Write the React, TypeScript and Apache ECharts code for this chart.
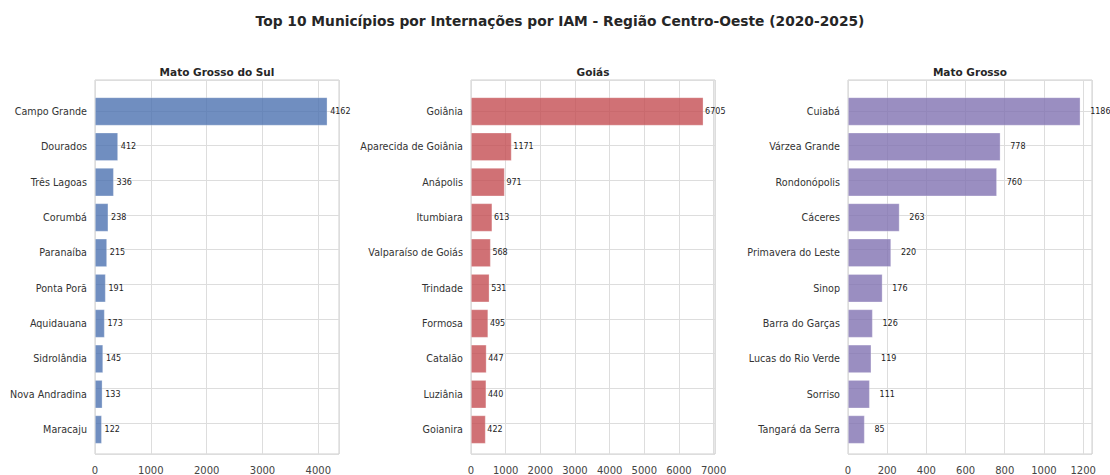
import React, { useEffect, useRef } from 'react';
import * as echarts from 'echarts';

const mainTitle = 'Top 10 Municípios por Internações por IAM - Região Centro-Oeste (2020-2025)';

const panelTitles = ['Mato Grosso do Sul', 'Goiás', 'Mato Grosso'];

const msNames = ['Campo Grande', 'Dourados', 'Três Lagoas', 'Corumbá', 'Paranaíba', 'Ponta Porã', 'Aquidauana', 'Sidrolândia', 'Nova Andradina', 'Maracaju'];
const msValues = [4162, 412, 336, 238, 215, 191, 173, 145, 133, 122];

const goNames = ['Goiânia', 'Aparecida de Goiânia', 'Anápolis', 'Itumbiara', 'Valparaíso de Goiás', 'Trindade', 'Formosa', 'Catalão', 'Luziânia', 'Goianira'];
const goValues = [6705, 1171, 971, 613, 568, 531, 495, 447, 440, 422];

const mtNames = ['Cuiabá', 'Várzea Grande', 'Rondonópolis', 'Cáceres', 'Primavera do Leste', 'Sinop', 'Barra do Garças', 'Lucas do Rio Verde', 'Sorriso', 'Tangará da Serra'];
const mtValues = [1186, 778, 760, 263, 220, 176, 126, 119, 111, 85];

const tickIntervals = [1000, 1000, 200];
const barColors = ['rgba(76,114,176,0.8)', 'rgba(196,78,82,0.8)', 'rgba(129,114,178,0.8)'];

const FONT = 'DejaVu Sans';

export default function App() {
  const ref = useRef<HTMLDivElement>(null);

  useEffect(() => {
    if (!ref.current) return;
    const chart = echarts.init(ref.current, null, { renderer: 'svg' });

    const panels = [
      { names: msNames, values: msValues },
      { names: goNames, values: goValues },
      { names: mtNames, values: mtValues },
    ];
    const lefts = [95, 471, 848];
    const width = 244;
    const frameTop = 80;
    const frameH = 381;
    const yMin = -0.89;
    const yMax = 9.89;
    const unit = frameH / (yMax - yMin);
    const barsTop = frameTop + (-0.5 - yMin) * unit;
    const barsH = 10 * unit;

    const grid: any[] = [];
    const xAxis: any[] = [];
    const yAxis: any[] = [];
    const series: any[] = [];
    const graphic: any[] = [];

    graphic.push({
      type: 'text',
      x: 560,
      y: 21,
      style: {
        text: mainTitle,
        fontFamily: FONT,
        fontSize: 13.8,
        fontWeight: 'bold',
        fill: '#262626',
        align: 'center',
        verticalAlign: 'middle',
      },
    });

    panels.forEach((p, i) => {
      const maxV = Math.max(...p.values) * 1.05;
      grid.push({
        left: lefts[i], top: frameTop, width, height: frameH,
        show: true, borderColor: '#cfcfcf', borderWidth: 1, backgroundColor: 'transparent',
      });
      grid.push({ left: lefts[i], top: barsTop, width, height: barsH });

      xAxis.push({
        gridIndex: 2 * i, type: 'value', min: 0, max: maxV, interval: tickIntervals[i],
        axisLine: { show: false }, axisTick: { show: false },
        axisLabel: {
          fontFamily: FONT, fontSize: 10, color: '#444', margin: 11, showMaxLabel: false,
          formatter: (v: number) => String(v),
        },
        splitLine: { show: true, lineStyle: { color: '#dddddd', width: 1 } },
      });
      xAxis.push({ gridIndex: 2 * i + 1, type: 'value', min: 0, max: maxV, show: false });

      yAxis.push({
        gridIndex: 2 * i, type: 'value', min: yMin, max: yMax, inverse: true, splitNumber: 10,
        axisLine: { show: false }, axisTick: { show: false }, axisLabel: { show: false },
        splitLine: { show: true, lineStyle: { color: '#dddddd', width: 1 } },
      });
      yAxis.push({
        gridIndex: 2 * i + 1, type: 'category', data: p.names, inverse: true,
        axisLine: { show: false }, axisTick: { show: false },
        axisLabel: { fontFamily: FONT, fontSize: 9.6, color: '#333', margin: 8 },
        splitLine: { show: false },
      });

      series.push({
        type: 'bar',
        xAxisIndex: 2 * i + 1,
        yAxisIndex: 2 * i + 1,
        data: p.values,
        barCategoryGap: '20%',
        itemStyle: { color: barColors[i], borderColor: 'rgba(255,255,255,0.4)', borderWidth: 0.7 },
        label: {
          show: true,
          position: 'right',
          distance: (50 * width) / maxV,
          fontFamily: FONT,
          fontSize: 8,
          color: '#222',
        },
      });

      graphic.push({
        type: 'text',
        x: lefts[i] + width / 2,
        y: 72,
        style: {
          text: panelTitles[i],
          fontFamily: FONT,
          fontSize: 10.5,
          fontWeight: 'bold',
          fill: '#262626',
          align: 'center',
          verticalAlign: 'middle',
        },
      });
    });

    chart.setOption({
      animation: false,
      backgroundColor: '#ffffff',
      grid,
      xAxis,
      yAxis,
      series,
      graphic,
    });

    return () => chart.dispose();
  }, []);

  return (
    <div
      ref={ref}
      style={{ position: 'fixed', left: 0, top: 0, width: 1110, height: 475 }}
    />
  );
}
